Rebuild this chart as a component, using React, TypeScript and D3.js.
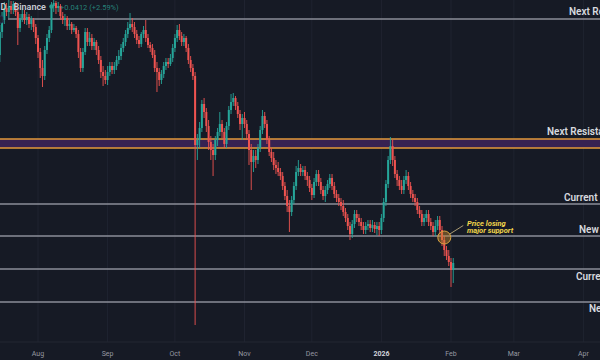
import React from "react";
import * as d3 from "d3";

// ---- data (daily candles, 15 Jul 2025 -> 2 Feb 2026) ----
const startDate = new Date(2025, 6, 15);
const endDate = new Date(2026, 1, 3);

const openP = [3.65,3.88,4.00,4.12,4.08,4.14,4.10,4.16,4.08,3.92,4.02,4.06,4.00,4.03,3.96,4.00,3.93,3.82,3.68,3.52,3.44,3.70,3.82,3.90,4.14,4.17,4.12,4.14,4.04,4.00,4.02,3.94,3.96,3.90,3.92,3.86,3.68,3.52,3.68,3.88,3.78,3.82,3.74,3.78,3.70,3.60,3.48,3.44,3.40,3.48,3.54,3.50,3.54,3.60,3.64,3.72,3.78,3.86,3.92,3.96,3.93,3.86,3.80,3.76,3.86,3.90,3.82,3.75,3.72,3.65,3.52,3.48,3.40,3.46,3.54,3.58,3.56,3.62,3.72,3.82,3.90,3.84,3.78,3.82,3.72,3.60,3.52,3.44,2.75,2.80,2.92,3.16,3.08,2.94,2.78,2.70,2.65,2.80,2.88,2.96,2.88,2.76,2.94,3.10,3.18,3.22,3.14,3.06,2.96,3.02,2.96,2.86,2.70,2.58,2.64,2.60,2.72,2.90,3.04,2.96,2.80,2.68,2.62,2.55,2.52,2.48,2.44,2.34,2.24,2.14,2.08,2.20,2.34,2.48,2.52,2.48,2.50,2.44,2.40,2.32,2.25,2.38,2.46,2.38,2.30,2.24,2.30,2.36,2.42,2.34,2.26,2.22,2.18,2.14,2.08,2.02,1.94,1.86,1.96,2.06,2.02,1.98,1.94,1.90,1.94,1.96,1.92,1.95,1.91,1.94,1.90,2.02,2.18,2.36,2.60,2.74,2.60,2.46,2.40,2.34,2.30,2.40,2.44,2.34,2.26,2.22,2.18,2.10,2.06,1.98,2.02,2.06,1.98,1.94,1.88,1.94,2.00,1.90,1.80,1.70,1.64,1.58,1.50];
const highP = [3.95,4.08,4.18,4.17,4.20,4.19,4.19,4.18,4.12,4.06,4.12,4.10,4.08,4.06,4.04,4.02,3.96,3.85,3.72,3.60,3.74,3.86,3.94,4.18,4.20,4.19,4.18,4.16,4.08,4.06,4.04,4.00,3.98,3.96,3.94,3.90,3.72,3.72,3.92,3.92,3.88,3.86,3.82,3.80,3.74,3.64,3.54,3.50,3.54,3.58,3.58,3.58,3.64,3.70,3.76,3.82,3.90,3.98,4.07,4.02,3.98,3.90,3.84,3.88,3.94,4.00,3.86,3.78,3.76,3.70,3.58,3.52,3.50,3.58,3.62,3.62,3.66,3.76,3.86,3.95,3.96,3.88,3.86,3.84,3.76,3.64,3.56,3.48,2.86,2.98,3.20,3.22,3.12,3.00,2.84,2.76,2.84,2.92,3.08,3.00,2.92,2.98,3.14,3.26,3.27,3.24,3.18,3.10,3.06,3.08,3.00,2.90,2.76,2.70,2.70,2.76,2.94,3.10,3.08,3.00,2.84,2.72,2.68,2.60,2.58,2.52,2.48,2.38,2.30,2.20,2.24,2.38,2.54,2.60,2.56,2.54,2.54,2.48,2.44,2.36,2.42,2.50,2.50,2.42,2.34,2.34,2.40,2.46,2.46,2.38,2.30,2.26,2.22,2.20,2.12,2.06,1.98,2.00,2.10,2.10,2.06,2.02,1.98,1.98,2.00,2.00,2.00,1.98,1.98,1.98,2.06,2.22,2.40,2.64,2.83,2.80,2.64,2.50,2.44,2.40,2.44,2.50,2.48,2.38,2.30,2.26,2.22,2.14,2.10,2.06,2.10,2.10,2.02,1.98,2.00,2.04,2.04,1.94,1.84,1.74,1.70,1.62,1.62];
const lowP = [3.58,3.82,3.96,4.04,4.02,4.06,4.06,4.04,3.75,3.88,3.98,3.96,3.95,3.92,3.90,3.88,3.76,3.62,3.42,3.33,3.40,3.66,3.78,3.87,4.08,4.06,4.08,4.00,3.96,3.94,3.90,3.90,3.86,3.88,3.82,3.62,3.48,3.48,3.65,3.74,3.74,3.70,3.70,3.65,3.56,3.42,3.34,3.36,3.35,3.44,3.46,3.46,3.50,3.56,3.60,3.68,3.74,3.82,3.90,3.88,3.82,3.76,3.72,3.73,3.82,3.78,3.72,3.68,3.62,3.48,3.28,3.34,3.36,3.42,3.50,3.52,3.54,3.58,3.68,3.78,3.80,3.74,3.74,3.68,3.56,3.48,3.40,0.95,2.60,2.72,2.88,3.02,2.88,2.70,2.60,2.44,2.60,2.74,2.84,2.82,2.72,2.72,2.90,3.06,3.14,3.10,3.02,2.90,2.80,2.92,2.80,2.55,2.30,2.48,2.52,2.56,2.68,2.86,2.92,2.76,2.64,2.58,2.50,2.46,2.44,2.40,2.30,2.20,2.08,1.88,2.04,2.16,2.30,2.44,2.44,2.44,2.40,2.34,2.28,2.20,2.22,2.34,2.34,2.26,2.20,2.18,2.26,2.32,2.30,2.22,2.18,2.14,2.10,2.04,1.98,1.90,1.80,1.82,1.92,1.98,1.94,1.90,1.86,1.86,1.90,1.88,1.88,1.87,1.85,1.84,1.86,1.98,2.14,2.32,2.56,2.54,2.42,2.34,2.30,2.26,2.26,2.36,2.30,2.22,2.18,2.14,2.06,2.02,1.94,1.94,1.98,1.94,1.90,1.84,1.84,1.90,1.86,1.74,1.64,1.60,1.54,1.33,1.37];
const closeP = [3.88,4.00,4.12,4.08,4.14,4.10,4.16,4.08,3.92,4.02,4.06,4.00,4.03,3.96,4.00,3.93,3.82,3.68,3.52,3.44,3.70,3.82,3.90,4.14,4.17,4.12,4.14,4.04,4.00,4.02,3.94,3.96,3.90,3.92,3.86,3.68,3.52,3.68,3.88,3.78,3.82,3.74,3.78,3.70,3.60,3.48,3.44,3.40,3.48,3.54,3.50,3.54,3.60,3.64,3.72,3.78,3.86,3.92,3.96,3.93,3.86,3.80,3.76,3.86,3.90,3.82,3.75,3.72,3.65,3.52,3.48,3.40,3.46,3.54,3.58,3.56,3.62,3.72,3.82,3.90,3.84,3.78,3.82,3.72,3.60,3.52,3.44,2.75,2.80,2.92,3.16,3.08,2.94,2.78,2.70,2.65,2.80,2.88,2.96,2.88,2.76,2.94,3.10,3.18,3.22,3.14,3.06,2.96,3.02,2.96,2.86,2.70,2.58,2.64,2.60,2.72,2.90,3.04,2.96,2.80,2.68,2.62,2.55,2.52,2.48,2.44,2.34,2.24,2.14,2.08,2.20,2.34,2.48,2.52,2.48,2.50,2.44,2.40,2.32,2.25,2.38,2.46,2.38,2.30,2.24,2.30,2.36,2.42,2.34,2.26,2.22,2.18,2.14,2.08,2.02,1.94,1.86,1.96,2.06,2.02,1.98,1.94,1.90,1.94,1.96,1.92,1.95,1.91,1.94,1.90,2.02,2.18,2.36,2.60,2.74,2.60,2.46,2.40,2.34,2.30,2.40,2.44,2.34,2.26,2.22,2.18,2.10,2.06,1.98,2.02,2.06,1.98,1.94,1.88,1.94,2.00,1.90,1.80,1.70,1.64,1.58,1.50,1.57];

// horizontal levels
const levelNames = ["Next Resistance 2", "Current Resistance", "New Support", "Current Support", "New Support 2"];
const levelPrices = [4.01, 2.16, 1.84, 1.51, 1.18];
const bandName = "Next Resistance";
const bandPrices = [2.81, 2.72];

// time axis
const tickLabels = ["Aug", "Sep", "Oct", "Nov", "Dec", "2026", "Feb", "Mar", "Apr"];
const tickStart = new Date(2025, 7, 1);

const annotationDate = new Date(2026, 0, 29);
const annotationPrice = 1.825;
const annotationLines = ["Price losing", "major support"];

export default function App() {
  const W = 600, H = 360;
  const dates = d3.timeDay.range(startDate, endDate);
  const x = d3.scaleTime().domain([new Date(2025, 7, 1), new Date(2026, 1, 1)]).range([38, 451]);
  const y = d3.scaleLinear().domain([0.6, 4.2]).range([360, 0]);
  const bw = 2;
  const up = "#26a69a", down = "#ef5350";
  const months = d3.timeMonth.range(tickStart, new Date(2026, 3, 2));

  const levelLabelX = [569, 564, 579, 576, 589];
  const levelLabelDy = [-4, -3, -3, 11, 10];
  const levelStartX = [8, 0, 0, 0, 0];

  const ax = x(annotationDate), ay = y(annotationPrice);

  return (
    <div style={{ position: "fixed", left: 0, top: 0, width: W, height: H }}>
      <svg width={W} height={H} style={{ display: "block", fontFamily: "Roboto, 'Noto Sans', sans-serif" }}>
        <rect width={W} height={H} fill="#161a25" />
        {months.map((m, i) => (
          <line key={"g" + i} x1={x(m)} x2={x(m)} y1={0} y2={342} stroke="#1f2330" strokeWidth={1} />
        ))}
        <line x1={0} x2={W} y1={342} y2={342} stroke="#222633" strokeWidth={1} />

        <rect x={0} y={y(bandPrices[0])} width={W} height={y(bandPrices[1]) - y(bandPrices[0])} fill="#372252" />
        {bandPrices.map((p, i) => (
          <line key={"b" + i} x1={0} x2={W} y1={y(p)} y2={y(p)} stroke="#e59a3a" strokeWidth={1.6} />
        ))}

        {levelPrices.map((p, i) => (
          <line key={"l" + i} x1={levelStartX[i]} x2={W} y1={y(p)} y2={y(p)} stroke="#8b8e98" strokeWidth={1.3} />
        ))}

        {dates.map((d, i) => {
          const o = openP[i], h = highP[i], l = lowP[i], c = closeP[i];
          if (o === undefined) return null;
          const col = c >= o ? up : down;
          const cx = x(d);
          const top = y(Math.max(o, c));
          const bh = Math.max(1, y(Math.min(o, c)) - top);
          return (
            <g key={"c" + i}>
              <line x1={cx} x2={cx} y1={y(h)} y2={y(l)} stroke={col} strokeWidth={0.9} />
              <rect x={cx - bw / 2} y={top} width={bw} height={bh} fill={col} />
            </g>
          );
        })}

        {levelPrices.map((p, i) => (
          <text key={"t" + i} x={levelLabelX[i]} y={y(p) + levelLabelDy[i]} fontSize={10} fontWeight={600} fill="#d7d9df">
            {levelNames[i]}
          </text>
        ))}
        <text x={547} y={y(bandPrices[0]) - 4} fontSize={10} fontWeight={600} fill="#d7d9df">{bandName}</text>

        <circle cx={ax} cy={ay} r={6.5} fill="#c98a2e" fillOpacity={0.45} stroke="#d9a441" strokeWidth={1} />
        <line x1={ax + 5.5} x2={ax + 19} y1={ay - 3.5} y2={ay - 12} stroke="#b9a87a" strokeWidth={0.9} />
        {annotationLines.map((t, i) => (
          <text key={"a" + i} x={467} y={ay - 12 + i * 7.5} fontSize={7.5} fontStyle="italic" fontWeight={700} fill="#f2d64b">{t}</text>
        ))}

        <text x={0.5} y={10} fontSize={9} fontWeight={600} fill="#c9ccd3">D · Binance</text>
        <circle cx={51.5} cy={6.5} r={2.2} fill="#2a9d8f" />
        <text x={60} y={9.5} fontSize={7.5} fill="#2a9d8f" fillOpacity={0.8}>+0.0412 (+2.59%)</text>
        <rect x={-4} y={16} width={7} height={7} rx={1.5} fill="#1e222d" stroke="#2b3a66" strokeWidth={0.8} />

        {months.map((m, i) => (
          <text key={"x" + i} x={x(m)} y={355.5} textAnchor="middle" fontSize={7} fontWeight={i === 5 ? 700 : 400} fill={i === 5 ? "#d1d4dc" : "#9598a1"}>
            {tickLabels[i]}
          </text>
        ))}
      </svg>
    </div>
  );
}
